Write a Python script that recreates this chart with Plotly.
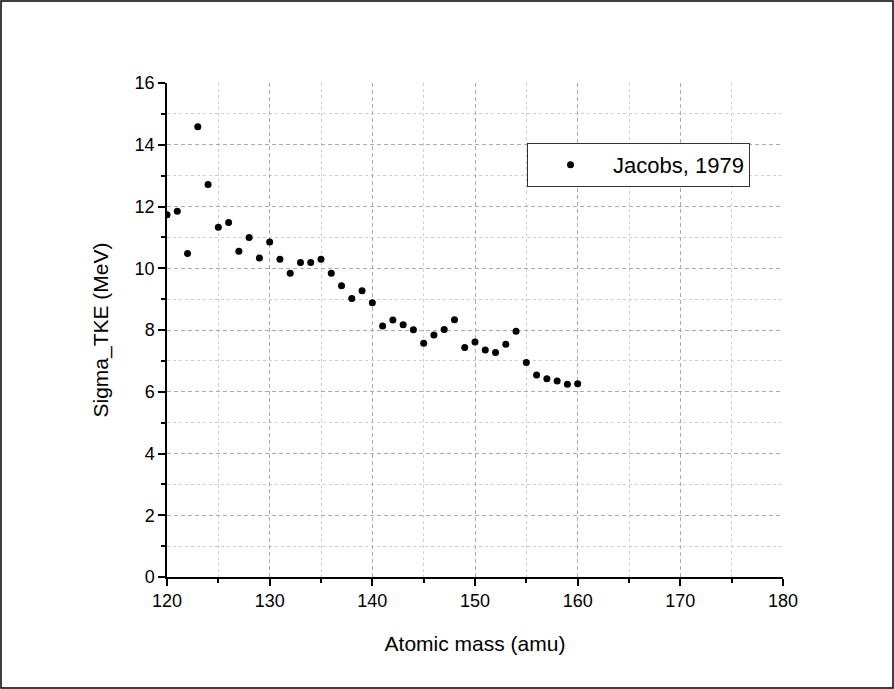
import plotly.graph_objects as go

mass = [120, 121, 122, 123, 124, 125, 126, 127, 128, 129, 130, 131, 132, 133, 134,
        135, 136, 137, 138, 139, 140, 141, 142, 143, 144, 145, 146, 147, 148, 149,
        150, 151, 152, 153, 154, 155, 156, 157, 158, 159, 160]
sigma_tke = [11.73, 11.85, 10.48, 14.58, 12.71, 11.33, 11.48, 10.55, 11.00, 10.33,
             10.85, 10.29, 9.84, 10.19, 10.19, 10.29, 9.84, 9.43, 9.02, 9.27,
             8.88, 8.13, 8.32, 8.17, 8.01, 7.57, 7.84, 8.02, 8.33, 7.43,
             7.61, 7.35, 7.27, 7.54, 7.96, 6.95, 6.54, 6.42, 6.35, 6.24, 6.26]
series_name = "Jacobs, 1979"
x_title = "Atomic mass (amu)"
y_title = "Sigma_TKE (MeV)"

FONT = "Liberation Sans, Arial, sans-serif"

fig = go.Figure()
fig.add_trace(go.Scatter(
    x=mass, y=sigma_tke, mode="markers", name=series_name,
    marker=dict(color="black", size=7, symbol="circle"),
    showlegend=True,
))

L, R, T, B = 167, 111, 83, 112
W, H = 894, 689
pw, ph = W - L - R, H - T - B

axis_common = dict(
    showline=True, linecolor="black", linewidth=1.5, mirror=False,
    ticks="outside", ticklen=7, tickwidth=1.5, tickcolor="black",
    showgrid=True, gridcolor="#ababab", gridwidth=1, griddash="4px,3px",
    zeroline=False,
    tickfont=dict(family=FONT, size=18, color="black"),
)

fig.update_xaxes(
    range=[120, 180], dtick=10, tick0=120,
    minor=dict(dtick=5, ticks="outside", ticklen=4, tickwidth=1.5, tickcolor="black",
               showgrid=True, gridcolor="#cfcfcf", griddash="dot", gridwidth=1),
    title=dict(text=x_title, font=dict(family=FONT, size=21, color="black"), standoff=26),
    **axis_common,
)
fig.update_yaxes(
    range=[0, 16], dtick=2, tick0=0,
    minor=dict(dtick=1, ticks="outside", ticklen=4, tickwidth=1.5, tickcolor="black",
               showgrid=True, gridcolor="#cfcfcf", griddash="dot", gridwidth=1),
    title=dict(text=y_title, font=dict(family=FONT, size=21, color="black"), standoff=20),
    **axis_common,
)

fig.add_shape(
    type="rect", xref="paper", yref="paper",
    x0=(1 - L) / pw, x1=(W - 1 - L) / pw,
    y0=(H - B - (H - 1)) / ph, y1=(H - B - 1) / ph,
    line=dict(color="black", width=1.5), fillcolor="rgba(0,0,0,0)",
)

fig.update_layout(
    width=W, height=H,
    margin=dict(l=L, r=R, t=T, b=B, autoexpand=False),
    paper_bgcolor="white", plot_bgcolor="white",
    font=dict(family=FONT, color="black"),
    legend=dict(
        x=(527 - L) / pw, y=(H - B - 143) / ph, xanchor="left", yanchor="top",
        bgcolor="white", bordercolor="#333333", borderwidth=1,
        font=dict(family=FONT, size=22, color="black"),
        itemwidth=75,
    ),
)

fig.write_html("out.html", config={"displayModeBar": False},
               post_script="document.body.style.margin='0px';")
